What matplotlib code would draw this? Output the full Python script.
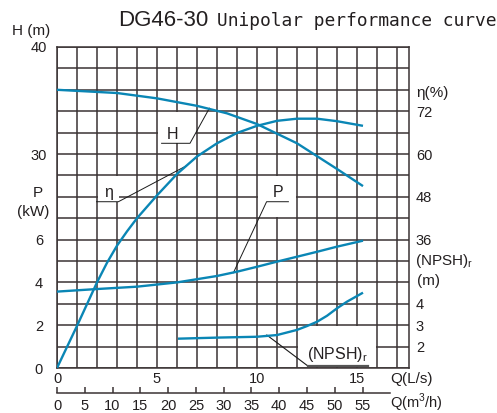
import numpy as np
import matplotlib
matplotlib.use("Agg")
import matplotlib.pyplot as plt
from matplotlib.patches import Rectangle

plt.rcParams['font.family'] = ['Liberation Sans', 'DejaVu Sans']

# ---------------- data ----------------
q_H = [0, 3, 5, 7, 8.5, 10, 11, 12, 13, 14, 15.3]
H = [36.0, 35.7, 35.2, 34.5, 33.8, 32.8, 31.9, 31.0, 29.8, 28.6, 27.0]

q_eta = [0, 1, 2, 2.5, 3, 3.5, 4, 5, 6, 7, 8, 9, 10, 11, 12, 13, 14, 15.3]
eta = [0, 11.8, 24.0, 29.5, 34.3, 38.3, 42.0, 48.4, 54.4, 59.3, 63.0,
       65.9, 67.9, 69.3, 69.9, 69.9, 69.2, 67.9]

q_P = [0, 2, 4, 6, 8, 9, 10, 11, 12, 13, 14, 15.3]
P = [3.57, 3.69, 3.80, 4.00, 4.30, 4.50, 4.73, 4.97, 5.20, 5.43, 5.67, 5.95]

q_N = [6.05, 8, 10, 11, 12, 12.5, 13, 13.5, 14, 14.5, 15.3]
NPSH = [2.37, 2.42, 2.46, 2.54, 2.78, 2.96, 3.16, 3.44, 3.79, 4.10, 4.52]

q_ticks = [0, 5, 10, 15]
m3h_ticks = list(range(0, 56, 5))
H_ticks = [30, 40]
P_ticks = [0, 2, 4, 6]
eta_ticks = [36, 48, 60, 72]
npsh_ticks = [2, 3, 4]

title_main = "DG46-30"
title_sub = "Unipolar performance curve"

# ---------------- styling ----------------
W, Hpx = 497, 413
blue = '#0a86b5'
gridc = '#3a3334'
txt = '#231f20'
fs = 10.5

def fx(px):
    return px / W

def fy(py):
    return 1 - py / Hpx

fig = plt.figure(figsize=(W / 100, Hpx / 100), dpi=100)
ax = fig.add_axes([fx(57), fy(368), (409 - 57) / W, (368 - 47) / Hpx])
ax.set_xlim(0, 17.6)
ax.set_ylim(0, 15)
ax.set_xticks(q_ticks)
ax.set_xticks(np.arange(0, 18), minor=True)
ax.set_yticks(P_ticks)
ax.set_yticks(np.arange(0, 16), minor=True)
ax.grid(which='both', color=gridc, lw=1.1)
ax.tick_params(which='both', length=0, colors=txt, labelsize=fs)
ax.tick_params(axis='x', pad=3)
ax.tick_params(axis='y', pad=13)
for lbl in ax.get_yticklabels():
    lbl.set_ha('center')
for s in ax.spines.values():
    s.set_color(gridc)
    s.set_linewidth(1.1)

def twin(lo, hi, ticks, side, pad):
    t = ax.twinx()
    t.set_ylim(lo, hi)
    t.set_yticks(ticks)
    if side == 'left':
        t.yaxis.tick_left()
    else:
        t.yaxis.tick_right()
    t.tick_params(length=0, colors=txt, labelsize=fs, pad=pad)
    for s in t.spines.values():
        s.set_visible(False)
    return t

axH = twin(10, 40, H_ticks, 'left', 13)
for lbl in axH.get_yticklabels():
    lbl.set_ha('center')
axE = twin(0, 90, eta_ticks, 'right', 5)
axN = twin(1, 16, npsh_ticks, 'right', 5)

# secondary x axis in m3/h
sec = ax.secondary_xaxis(-25 / 321, functions=(lambda q: q * 3.6, lambda m: m / 3.6))
sec.set_xticks(m3h_ticks)
sec.tick_params(direction='in', length=4, width=1.1, color=gridc, colors=txt,
                labelsize=fs, pad=4)
sec.spines['bottom'].set_color(gridc)
sec.spines['bottom'].set_linewidth(1.1)
sec.spines['bottom'].set_bounds(0, 60)

# white label boxes (hide grid behind labels)
for (x0, y0, w, h) in [(5.06, 10.52, 1.88, 1.44), (2.06, 7.77, 1.02, 1.19),
                       (10.06, 7.05, 1.88, 1.9), (12.06, 0.04, 3.88, 1.92)]:
    ax.add_patch(Rectangle((x0, y0), w, h, facecolor='white', edgecolor='none', zorder=1.7))

# curves
lw = 1.7
axH.plot(q_H, H, color=blue, lw=lw, solid_capstyle='butt')
axE.plot(q_eta, eta, color=blue, lw=lw, solid_capstyle='butt')
ax.plot(q_P, P, color=blue, lw=lw, solid_capstyle='butt', zorder=3)
axN.plot(q_N, NPSH, color=blue, lw=lw, solid_capstyle='butt')

# leader lines
lk = dict(color='#1a1a1a', lw=0.7, zorder=2.5)
ax.plot([5.23, 6.65, 7.62], [10.5, 10.5, 12.14], **lk)
ax.plot([1.98, 3.07, 6.45], [7.77, 7.77, 9.44], **lk)
ax.plot([11.57, 10.48, 8.82], [7.77, 7.77, 4.45], **lk)
ax.plot([15.55, 12.55, 10.49], [0.09, 0.09, 1.54], color='#1a1a1a', lw=0.8, zorder=2.5)
ax.plot([12.55, 15.55], [0.09, 0.09], color='#555555', lw=1.6, zorder=2.5)

lab = dict(color=txt, fontsize=11.5, ha='center', va='center', zorder=4)
ax.text(5.78, 10.93, 'H', **lab)
ax.text(2.58, 8.18, 'η', **lab)
ax.text(11.05, 8.2, 'P', **lab)
ax.text(14.0, 0.62, r'(NPSH)$_\mathregular{r}$', **lab)

# axis captions
cap = dict(color=txt, fontsize=11, va='center')
fig.text(fx(12), fy(31), 'H (m)', ha='left', **cap)
fig.text(fx(38), fy(193), 'P', ha='center', **cap)
fig.text(fx(33), fy(212), '(kW)', ha='center', **cap)
fig.text(fx(416), fy(93), 'η(%)', ha='left', **cap)
fig.text(fx(415), fy(261), r'(NPSH)$_\mathregular{r}$', ha='left', **cap)
fig.text(fx(417), fy(281), '(m)', ha='left', **cap)
fig.text(fx(390), fy(379), 'Q(L/s)', ha='left', **cap)
fig.text(fx(390), fy(403), r'Q(m$^\mathregular{3}$/h)', ha='left', color=txt,
         fontsize=10.5, va='center')

# title
fig.text(fx(118), fy(21), title_main, ha='left', va='center', fontsize=16, color=txt)
fig.text(fx(217), fy(21), title_sub, ha='left', va='center', fontsize=12.9,
         color=txt, family='DejaVu Sans Mono')

fig.savefig('out.png', dpi=100)
